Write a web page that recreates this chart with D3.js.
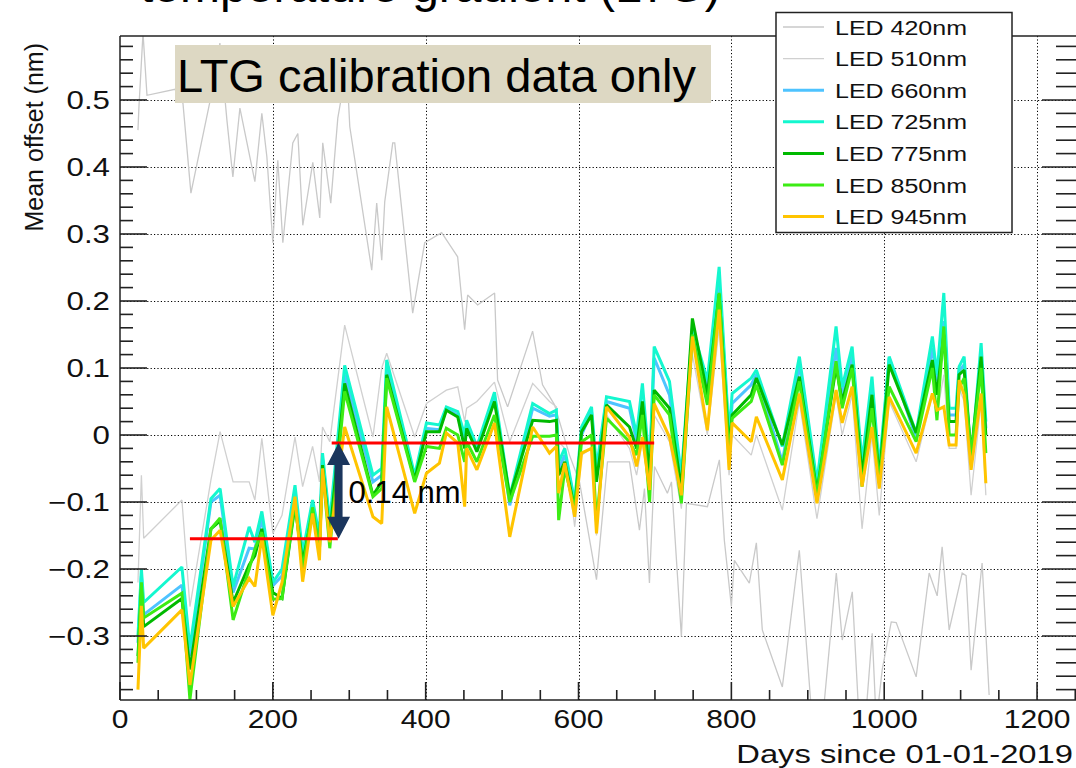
<!DOCTYPE html>
<html><head><meta charset="utf-8">
<script src="https://cdn.jsdelivr.net/npm/d3@7/dist/d3.min.js"></script>
<style>body{margin:0;background:#fff}svg{display:block}text{font-family:"Liberation Sans",Arial,sans-serif}</style>
</head><body><svg id="c" width="1076" height="768"></svg>
<script>
const days = [23.5,28,31,81,91.5,119,131,148,169,176.5,185.6,200,212,229,239,252,261,265,274.5,294,331,342.5,349,385.6,401,418,427,442,451,453.6,467,490,510,540,562,571,574,582,595,604,617,623.5,636.6,666.7,676,683.6,693,699,719,734.6,749,768.6,784,797,801,826,832.7,866.7,889,912,937,945,958,971,984,993.5,1006.5,1041.8,1063,1069,1078,1085,1094,1098,1104.6,1113.7,1126.8,1133];
const led725 = [-0.30,-0.20,-0.25,-0.197,-0.318,-0.095,-0.08,-0.226,-0.137,-0.16,-0.114,-0.22,-0.20,-0.075,-0.176,-0.097,-0.15,-0.027,-0.13,0.104,-0.06,-0.05,0.112,-0.06,0.018,0.015,0.042,0.035,0.0,0.022,-0.017,0.064,-0.092,0.047,0.032,0.037,-0.04,-0.02,-0.10,0.012,0.042,-0.05,0.057,0.05,0.0,0.077,-0.05,0.132,0.08,-0.06,0.16,0.082,0.251,0.0,0.062,0.085,0.097,-0.017,0.117,-0.07,0.162,0.072,0.132,-0.04,0.087,-0.05,0.117,0.003,0.147,0.09,0.212,0.04,0.04,0.102,0.117,-0.04,0.137,0.02];
const led660 = [-0.31,-0.21,-0.268,-0.224,-0.33,-0.10,-0.09,-0.235,-0.169,-0.17,-0.125,-0.225,-0.21,-0.085,-0.185,-0.105,-0.16,-0.035,-0.14,0.09,-0.07,-0.06,0.10,-0.065,0.01,0.008,0.038,0.03,-0.01,0.015,-0.02,0.058,-0.105,0.04,0.028,0.03,-0.05,-0.03,-0.10,0.0,0.035,-0.06,0.05,0.04,-0.01,0.05,-0.055,0.115,0.06,-0.07,0.15,0.075,0.23,-0.01,0.047,0.075,0.09,-0.04,0.105,-0.08,0.13,0.06,0.12,-0.05,0.075,-0.06,0.115,-0.005,0.13,0.08,0.17,0.03,0.03,0.095,0.105,-0.045,0.12,0.01];
const led775 = [-0.33,-0.23,-0.286,-0.244,-0.35,-0.14,-0.128,-0.25,-0.194,-0.18,-0.14,-0.235,-0.244,-0.105,-0.19,-0.115,-0.17,-0.045,-0.15,0.077,-0.09,-0.07,0.09,-0.067,0.005,0.005,0.037,0.027,-0.02,0.01,-0.025,0.05,-0.092,0.022,0.02,0.022,-0.06,-0.04,-0.11,0.005,0.03,-0.07,0.045,0.012,-0.02,0.05,-0.06,0.067,0.04,-0.08,0.174,0.06,0.21,-0.02,0.03,0.06,0.085,-0.015,0.087,-0.085,0.102,0.05,0.105,-0.06,0.06,-0.065,0.105,0.003,0.112,0.06,0.15,0.02,0.02,0.09,0.097,-0.03,0.117,0.0];
const led850 = [-0.34,-0.22,-0.273,-0.236,-0.395,-0.14,-0.124,-0.276,-0.20,-0.17,-0.145,-0.245,-0.244,-0.10,-0.20,-0.108,-0.17,-0.05,-0.169,0.065,-0.092,-0.08,0.085,-0.07,-0.017,-0.02,0.01,0.0,-0.04,-0.01,-0.04,0.03,-0.10,-0.002,-0.002,0.0,-0.127,-0.05,-0.11,-0.01,0.0,-0.13,0.025,-0.01,-0.03,0.03,-0.10,0.06,0.03,-0.102,0.15,0.045,0.212,-0.03,0.025,0.05,0.075,-0.045,0.08,-0.09,0.11,0.04,0.1,-0.077,0.04,-0.07,0.072,-0.01,0.10,0.022,0.162,0.0,0.0,0.07,0.085,-0.03,0.1,-0.027];
const led945 = [-0.38,-0.255,-0.318,-0.261,-0.373,-0.157,-0.142,-0.256,-0.214,-0.226,-0.152,-0.269,-0.22,-0.092,-0.219,-0.117,-0.187,-0.05,-0.16,0.012,-0.122,-0.132,0.042,-0.117,-0.057,-0.042,0.003,-0.012,-0.107,-0.02,-0.052,0.018,-0.152,0.012,-0.027,-0.017,-0.087,-0.042,-0.122,-0.027,-0.02,-0.147,0.042,-0.003,-0.047,-0.003,-0.082,0.047,-0.003,-0.09,0.147,0.007,0.187,-0.052,0.018,-0.01,0.027,-0.067,0.062,-0.102,0.067,0.018,0.072,-0.077,0.012,-0.08,0.057,-0.027,0.062,0.037,0.042,-0.015,-0.015,0.082,0.06,-0.052,0.062,-0.072];
const led510 = [-0.22,-0.06,-0.154,-0.097,-0.256,-0.067,0.005,-0.07,-0.07,-0.097,-0.005,-0.147,-0.12,-0.003,-0.077,-0.017,-0.07,0.012,-0.01,0.164,-0.003,0.10,0.122,-0.003,0.047,0.06,0.067,0.072,0.02,0.04,0.05,0.079,-0.01,0.077,0.05,0.042,-0.01,-0.02,-0.137,-0.03,-0.02,-0.15,0.03,-0.02,-0.06,-0.01,-0.09,0.03,-0.01,-0.11,0.12,0.0,0.16,-0.06,0.0,-0.03,0.0,-0.112,0.05,-0.125,0.06,0.0,0.06,-0.14,0.0,-0.12,0.05,-0.04,0.06,0.03,0.09,-0.02,-0.02,0.07,0.05,-0.09,0.05,-0.09];
const days420 = [23.5,24.8,30.1,35.3,71.9,82.4,92.8,117.6,130.7,139.9,147.7,156.9,176.5,185.6,192.2,200.0,206.5,213.1,226.1,232.7,239.2,252.3,261.4,265.3,275.8,285.0,296.7,300.7,329.4,335.9,342.5,346.4,356.9,359.5,383.0,398.7,420.9,441.8,451.0,454.9,468.0,490.2,494.1,507.2,539.9,552.9,568.6,588.2,601.3,610.5,623.5,637.9,666.7,679.7,686.3,692.8,699.4,716.3,721.6,734.6,741.2,768.7,784.3,790.8,800.0,803.9,823.5,832.7,840.5,866.7,888.9,905.9,919.0,937.3,945.1,958.2,967.3,975.2,984.3,989.6,997.4,1009.2,1015.7,1041.8,1058.8,1069.3,1075.8,1085.0,1102.0,1107.2,1113.7,1128.1,1134.6,1137.3];
const led420 = [0.455,0.49,0.60,0.507,0.516,0.495,0.361,0.497,0.585,0.47,0.385,0.488,0.378,0.48,0.415,0.287,0.41,0.287,0.436,0.45,0.313,0.407,0.324,0.436,0.346,0.473,0.55,0.46,0.246,0.346,0.261,0.348,0.436,0.436,0.182,0.287,0.302,0.266,0.157,0.209,0.194,0.212,0.082,0.042,0.155,0.075,0.045,-0.03,-0.07,-0.13,-0.216,-0.04,-0.04,-0.142,-0.08,-0.221,-0.047,-0.087,-0.07,-0.301,-0.102,-0.107,-0.037,-0.157,-0.256,-0.187,-0.221,-0.161,-0.291,-0.376,-0.172,-0.43,-0.43,-0.206,-0.306,-0.234,-0.43,-0.43,-0.296,-0.43,-0.35,-0.279,-0.28,-0.361,-0.206,-0.24,-0.167,-0.291,-0.206,-0.21,-0.351,-0.191,-0.33,-0.388];

const seriesNames = ["LED 420nm","LED 510nm","LED 660nm","LED 725nm","LED 775nm","LED 850nm","LED 945nm"];
const xTicks = [0,200,400,600,800,1000,1200];
const yTicks = [-0.3,-0.2,-0.1,0,0.1,0.2,0.3,0.4,0.5];
const redLevels = [[91.5,285,-0.155],[277,699,-0.012]];
const arrowSpan = [286,-0.012,-0.155];
const arrowLabel = "0.14 nm";
const boxLabel = "LTG calibration data only";
const titleText = "temperature gradient (LTG)";
const xTitle = "Days since 01-01-2019";
const yTitle = "Mean offset (nm)";

const series = [
  {name:seriesNames[0], x:days420, y:led420, color:"#c9c9c9", w:1.3},
  {name:seriesNames[1], x:days, y:led510, color:"#d0d0d0", w:1.3},
  {name:seriesNames[2], x:days, y:led660, color:"#4ec3ff", w:3},
  {name:seriesNames[3], x:days, y:led725, color:"#14f7cf", w:3},
  {name:seriesNames[4], x:days, y:led775, color:"#00b900", w:3},
  {name:seriesNames[5], x:days, y:led850, color:"#3cec14", w:3},
  {name:seriesNames[6], x:days, y:led945, color:"#ffc400", w:3}
];

const L=120, R=1080, T=36, B=700;
const x = d3.scaleLinear().domain([0,1256.2]).range([L,R]);
const y = d3.scaleLinear().domain([-0.3955,0.5955]).range([B,T]);
const svg = d3.select("#c");
svg.append("rect").attr("width",1076).attr("height",768).attr("fill","#fff");

// title (cut off at top, as in the reference)
svg.append("text").attr("x",140).attr("y",2).attr("font-size",48).attr("fill","#000").text(titleText);

svg.append("defs").append("clipPath").attr("id","pc").append("rect")
  .attr("x",L).attr("y",T).attr("width",R-L).attr("height",B-T);

// grid
const grid = svg.append("g").attr("stroke","#000").attr("stroke-width",1).attr("stroke-dasharray","1.2,2.2");
grid.selectAll(".gx").data(xTicks.filter(d=>d>0)).join("line")
  .attr("x1",d=>Math.round(x(d))+0.5).attr("x2",d=>Math.round(x(d))+0.5).attr("y1",T).attr("y2",B);
grid.selectAll(".gy").data(yTicks).join("line")
  .attr("y1",d=>Math.round(y(d))+0.5).attr("y2",d=>Math.round(y(d))+0.5).attr("x1",L).attr("x2",R);

// data lines
const plot = svg.append("g").attr("clip-path","url(#pc)");
series.forEach(s=>{
  const pts = s.x.map((d,i)=>[d,s.y[i]]);
  plot.append("path").datum(pts)
    .attr("fill","none").attr("stroke",s.color).attr("stroke-width",s.w)
    .attr("stroke-linejoin","miter").attr("stroke-miterlimit",2)
    .attr("d",d3.line().x(d=>x(d[0])).y(d=>y(d[1])));
});

// red level lines
svg.append("g").selectAll("line").data(redLevels).join("line")
  .attr("x1",d=>x(d[0])).attr("x2",d=>x(d[1])).attr("y1",d=>y(d[2])).attr("y2",d=>y(d[2]))
  .attr("stroke","#ff0000").attr("stroke-width",3);

// double arrow
{
  const ax = x(arrowSpan[0]), y1 = y(arrowSpan[1]), y2 = y(arrowSpan[2]);
  const col = "#1b365d", hw = 11.5, hh = 22;
  svg.append("rect").attr("x",ax-4).attr("y",y1+hh-1).attr("width",8).attr("height",(y2-y1)-2*hh+2).attr("fill",col);
  svg.append("path").attr("fill",col)
    .attr("d",`M${ax},${y1} L${ax+hw},${y1+hh} L${ax-hw},${y1+hh} Z M${ax},${y2} L${ax+hw},${y2-hh} L${ax-hw},${y2-hh} Z`);
  svg.append("text").attr("x",ax+10).attr("y",y(-0.102)).attr("font-size",31).attr("fill","#000").text(arrowLabel);
}

// axes frame
const ax = svg.append("g").attr("stroke","#222").attr("stroke-width",1.5);
ax.append("line").attr("x1",L).attr("x2",L).attr("y1",T).attr("y2",B);
ax.append("line").attr("x1",L).attr("x2",R).attr("y1",B).attr("y2",B);
ax.append("line").attr("x1",L).attr("x2",R).attr("y1",T).attr("y2",T);
ax.append("line").attr("x1",R).attr("x2",R).attr("y1",T).attr("y2",B);

// y ticks (left & right)
const yMinor = d3.range(-39,60).map(i=>i/100).filter(v=>Math.abs(Math.round(v*100)%2)===0 && v>=-0.39 && v<=0.59);
const isMajorY = v=>Math.abs(v*10-Math.round(v*10))<1e-6;
ax.selectAll(".ytl").data(yMinor).join("line")
  .attr("x1",L).attr("x2",v=>L+(isMajorY(v)?27:13))
  .attr("y1",v=>y(v)).attr("y2",v=>y(v)).attr("stroke-width",1.6);
ax.selectAll(".ytr").data(yMinor).join("line")
  .attr("x1",R).attr("x2",v=>R-(isMajorY(v)?38:24))
  .attr("y1",v=>y(v)).attr("y2",v=>y(v)).attr("stroke-width",1.6);

// x ticks
const xMinor = d3.range(0,1251,50);
ax.selectAll(".xt").data(xMinor).join("line")
  .attr("x1",d=>x(d)).attr("x2",d=>x(d))
  .attr("y1",B).attr("y2",d=>B-(d%200===0?18:10)).attr("stroke-width",1.6);

// tick labels
const fmt = v=>{ if(Math.abs(v)<1e-9) return "0"; const s=Math.abs(v).toFixed(1); return (v<0?"\u2212":"")+s; };
svg.append("g").selectAll("text").data(yTicks).join("text")
  .attr("text-anchor","end").attr("font-size",25).attr("fill","#111")
  .attr("transform",v=>`translate(110,${y(v)+9}) scale(1.25,1)`).text(fmt);
svg.append("g").selectAll("text").data(xTicks).join("text")
  .attr("text-anchor","middle").attr("font-size",25).attr("fill","#111")
  .attr("transform",d=>`translate(${x(d)},728) scale(1.2,1)`).text(d=>d);

svg.append("text").attr("text-anchor","end").attr("font-size",26).attr("fill","#111")
  .attr("transform","translate(1073,763) scale(1.26,1)").text(xTitle);
svg.append("text").attr("text-anchor","end").attr("font-size",25).attr("fill","#111")
  .attr("transform","translate(43,43) rotate(-90)").text(yTitle);

// LTG box
svg.append("rect").attr("x",175).attr("y",45).attr("width",536).attr("height",58).attr("fill","#ddd8c3");
svg.append("text").attr("x",177).attr("y",92).attr("font-size",47).attr("fill","#000").text(boxLabel);

// legend
const lg = svg.append("g");
lg.append("rect").attr("x",776).attr("y",12.5).attr("width",236).attr("height",220)
  .attr("fill","#fff").attr("stroke","#222").attr("stroke-width",1.5);
series.forEach((s,i)=>{
  const cy = 27 + i*31.6;
  lg.append("line").attr("x1",783).attr("x2",824).attr("y1",cy).attr("y2",cy)
    .attr("stroke",s.color).attr("stroke-width",s.w===3?3:1.3);
  lg.append("text").attr("font-size",20).attr("fill","#111")
    .attr("transform",`translate(835,${cy+7.5}) scale(1.25,1)`).text(s.name);
});
</script></body></html>
